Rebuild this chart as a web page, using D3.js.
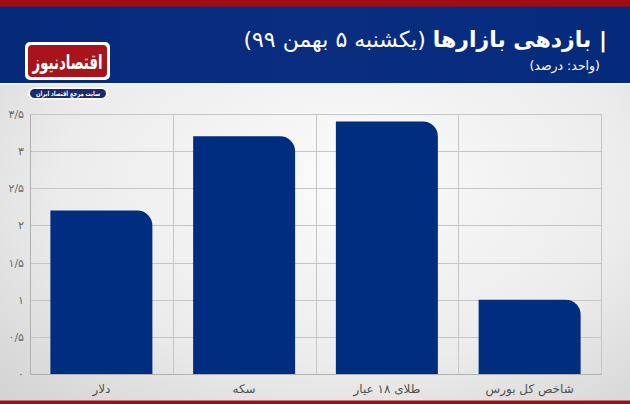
<!DOCTYPE html>
<html lang="fa">
<head>
<meta charset="utf-8">
<script src="https://cdn.jsdelivr.net/npm/d3@7"></script>
<style>
html,body{margin:0;padding:0;}
body{width:630px;height:404px;overflow:hidden;font-family:"DejaVu Sans",sans-serif;}
svg{display:block;}
</style>
</head>
<body>
<svg id="chart" width="630" height="404"></svg>
<script>
// ---- data ----
const categories = ["دلار", "سکه", "طلای ۱۸ عیار", "شاخص کل بورس"];
const values = [2.2, 3.2, 3.4, 1.0];
const yTicks = [0, 0.5, 1, 1.5, 2, 2.5, 3, 3.5];
const titleBold = "| بازدهی بازارها";
const titleRest = " (یکشنبه ۵ بهمن ۹۹)";
const subtitle = "(واحد: درصد)";
const logoText = "اقتصادنیوز";
const logoTag = "سایت مرجع اقتصاد ایران";

const faDigits = "۰۱۲۳۴۵۶۷۸۹";
const toFa = s => String(s).replace(/\d/g, d => faDigits[+d]).replace(".", "/");

const W = 630, H = 404;
const svg = d3.select("#chart");
const defs = svg.append("defs");

// background gradient
const bg = defs.append("radialGradient").attr("id", "bgGrad")
  .attr("cx", "0.55").attr("cy", "0.45").attr("r", "0.75");
bg.append("stop").attr("offset", "0%").attr("stop-color", "#fbfbfb");
bg.append("stop").attr("offset", "60%").attr("stop-color", "#ececec");
bg.append("stop").attr("offset", "100%").attr("stop-color", "#d4d4d4");

const hg = defs.append("linearGradient").attr("id", "hdrGrad")
  .attr("x1", "0").attr("x2", "1").attr("y1", "0").attr("y2", "0");
hg.append("stop").attr("offset", "0%").attr("stop-color", "#06297a");
hg.append("stop").attr("offset", "50%").attr("stop-color", "#0a2d80");
hg.append("stop").attr("offset", "100%").attr("stop-color", "#052a7c");

svg.append("rect").attr("width", W).attr("height", H).attr("fill", "url(#bgGrad)");
// header
svg.append("rect").attr("x", 0).attr("y", 0).attr("width", W).attr("height", 83).attr("fill", "url(#hdrGrad)");
svg.append("rect").attr("x", 0).attr("y", 0).attr("width", W).attr("height", 6.5).attr("fill", "#a30d12");
svg.append("rect").attr("x", 0).attr("y", 83).attr("width", W).attr("height", 1.5).attr("fill", "#f4f4f4");
// bottom stripe
svg.append("rect").attr("x", 0).attr("y", 400.5).attr("width", W).attr("height", 4).attr("fill", "#a30d12");

// title
const t = svg.append("text")
  .attr("x", 607).attr("y", 47)
  .attr("direction", "rtl").style("unicode-bidi", "embed")
  .attr("text-anchor", "start")
  .attr("fill", "#ffffff").attr("font-size", 22);
t.append("tspan").attr("font-weight", "bold").text(titleBold);
t.append("tspan").attr("font-weight", "normal").text(titleRest);

svg.append("text")
  .attr("x", 600).attr("y", 70)
  .attr("direction", "rtl").style("unicode-bidi", "embed")
  .attr("text-anchor", "start")
  .attr("fill", "#ffffff").attr("font-size", 12.5)
  .text(subtitle);

// logo
const logo = svg.append("g");
logo.append("rect").attr("x", 25).attr("y", 42).attr("width", 85).attr("height", 38).attr("rx", 5)
  .attr("fill", "#ffffff");
logo.append("rect").attr("x", 28).attr("y", 45).attr("width", 79).attr("height", 32).attr("rx", 4)
  .attr("fill", "#a8141b");
logo.append("text").attr("x", 67.5).attr("y", 69).attr("text-anchor", "middle")
  .attr("direction", "rtl").attr("fill", "#ffffff").attr("font-size", 20).attr("font-weight", "bold")
  .attr("textLength", 70).attr("lengthAdjust", "spacingAndGlyphs")
  .text(logoText);
logo.append("rect").attr("x", 28).attr("y", 87.5).attr("width", 80).attr("height", 12).attr("rx", 6)
  .attr("fill", "#ffffff");
logo.append("rect").attr("x", 30).attr("y", 89).attr("width", 76).attr("height", 9).attr("rx", 4.5)
  .attr("fill", "#1b2a6e");
logo.append("text").attr("x", 68).attr("y", 96.3).attr("text-anchor", "middle")
  .attr("direction", "rtl").attr("fill", "#ffffff").attr("font-size", 7).attr("font-weight", "bold")
  .attr("textLength", 64).attr("lengthAdjust", "spacingAndGlyphs")
  .text(logoTag);

// scales
const x = d3.scaleBand().domain(categories).range([30, 601]).paddingInner(0.2855).paddingOuter(0.14275);
const y = d3.scaleLinear().domain([0, 3.5]).range([374, 114]);

// grid
const grid = svg.append("g");
grid.selectAll("line.h").data(yTicks).join("line").attr("class", "h")
  .attr("x1", 30).attr("x2", 601)
  .attr("y1", d => Math.round(y(d)) + 0.5).attr("y2", d => Math.round(y(d)) + 0.5)
  .attr("stroke", "#c6c6c6").attr("stroke-width", 1);
const bounds = categories.map(c => x(c) - x.step() * x.paddingInner() / 2);
bounds.push(601);
grid.selectAll("line.v").data(bounds).join("line").attr("class", "v")
  .attr("x1", d => Math.round(d) + 0.5).attr("x2", d => Math.round(d) + 0.5)
  .attr("y1", 114).attr("y2", 374)
  .attr("stroke", "#c6c6c6").attr("stroke-width", 1);

// y axis
const yAxis = d3.axisLeft(y).tickValues(yTicks).tickSize(0).tickPadding(6).tickFormat(toFa);
const ya = svg.append("g").attr("transform", "translate(30,0)").call(yAxis);
ya.select(".domain").attr("stroke", "#b0b0b0");
ya.selectAll("text").attr("fill", "#6a6a6a").attr("font-size", 11).attr("font-family", "DejaVu Sans");

// bars
const r = 15;
svg.append("g").selectAll("path").data(values).join("path")
  .attr("d", (v, i) => {
    const x0 = x(categories[i]), x1 = x0 + x.bandwidth();
    const y0 = y(v), yb = y(0);
    return `M${x0},${yb}L${x0},${y0}L${x1 - r},${y0}A${r},${r} 0 0 1 ${x1},${y0 + r}L${x1},${yb}Z`;
  })
  .attr("fill", "#002d80");

// x axis
const xAxis = d3.axisBottom(x).tickSize(0).tickPadding(10);
const xa = svg.append("g").attr("transform", "translate(0,374)").call(xAxis);
xa.select(".domain").attr("stroke", "#b0b0b0");
xa.selectAll("text").attr("fill", "#505050").attr("font-size", 12).attr("font-family", "DejaVu Sans")
  .attr("direction", "rtl");
</script>
</body>
</html>
